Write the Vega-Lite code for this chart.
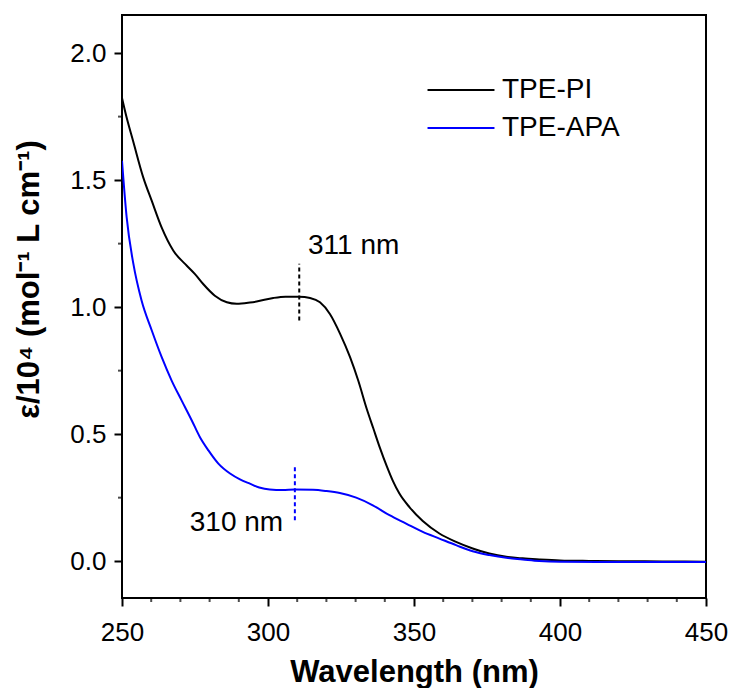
{
  "$schema": "https://vega.github.io/schema/vega-lite/v6.json",
  "width": 584,
  "height": 583,
  "autosize": {"type": "none"},
  "padding": {"left": 122, "top": 15, "right": 28, "bottom": 90},
  "background": "white",
  "config": {
    "font": "Liberation Sans",
    "view": {"stroke": "black", "strokeWidth": 2},
    "axis": {"grid": false, "domain": false, "tickColor": "black", "labelColor": "black", "titleColor": "black"}
  },
  "datasets": {
    "spectra": [
      {"wl": 250, "eps": 1.823, "s": "TPE-PI"},
      {"wl": 251.5, "eps": 1.75, "s": "TPE-PI"},
      {"wl": 253.8, "eps": 1.654, "s": "TPE-PI"},
      {"wl": 257.3, "eps": 1.51, "s": "TPE-PI"},
      {"wl": 260.2, "eps": 1.418, "s": "TPE-PI"},
      {"wl": 263.6, "eps": 1.313, "s": "TPE-PI"},
      {"wl": 267.6, "eps": 1.222, "s": "TPE-PI"},
      {"wl": 272.2, "eps": 1.163, "s": "TPE-PI"},
      {"wl": 275, "eps": 1.13, "s": "TPE-PI"},
      {"wl": 277.8, "eps": 1.091, "s": "TPE-PI"},
      {"wl": 281.8, "eps": 1.045, "s": "TPE-PI"},
      {"wl": 285.9, "eps": 1.019, "s": "TPE-PI"},
      {"wl": 289.3, "eps": 1.013, "s": "TPE-PI"},
      {"wl": 293.8, "eps": 1.018, "s": "TPE-PI"},
      {"wl": 296.1, "eps": 1.022, "s": "TPE-PI"},
      {"wl": 301.8, "eps": 1.036, "s": "TPE-PI"},
      {"wl": 306, "eps": 1.041, "s": "TPE-PI"},
      {"wl": 310.7, "eps": 1.041, "s": "TPE-PI"},
      {"wl": 314.4, "eps": 1.036, "s": "TPE-PI"},
      {"wl": 317.8, "eps": 1.019, "s": "TPE-PI"},
      {"wl": 321.2, "eps": 0.973, "s": "TPE-PI"},
      {"wl": 324.7, "eps": 0.895, "s": "TPE-PI"},
      {"wl": 328.1, "eps": 0.803, "s": "TPE-PI"},
      {"wl": 330.9, "eps": 0.711, "s": "TPE-PI"},
      {"wl": 333.8, "eps": 0.6, "s": "TPE-PI"},
      {"wl": 336, "eps": 0.525, "s": "TPE-PI"},
      {"wl": 338.3, "eps": 0.447, "s": "TPE-PI"},
      {"wl": 340.7, "eps": 0.373, "s": "TPE-PI"},
      {"wl": 342.8, "eps": 0.315, "s": "TPE-PI"},
      {"wl": 345, "eps": 0.266, "s": "TPE-PI"},
      {"wl": 348.5, "eps": 0.212, "s": "TPE-PI"},
      {"wl": 353, "eps": 0.158, "s": "TPE-PI"},
      {"wl": 358.7, "eps": 0.109, "s": "TPE-PI"},
      {"wl": 364.4, "eps": 0.076, "s": "TPE-PI"},
      {"wl": 370.1, "eps": 0.05, "s": "TPE-PI"},
      {"wl": 375.8, "eps": 0.03, "s": "TPE-PI"},
      {"wl": 381.6, "eps": 0.017, "s": "TPE-PI"},
      {"wl": 387.2, "eps": 0.011, "s": "TPE-PI"},
      {"wl": 392.9, "eps": 0.007, "s": "TPE-PI"},
      {"wl": 400, "eps": 0.003, "s": "TPE-PI"},
      {"wl": 410, "eps": 0.001, "s": "TPE-PI"},
      {"wl": 420, "eps": 0.0, "s": "TPE-PI"},
      {"wl": 435, "eps": -0.001, "s": "TPE-PI"},
      {"wl": 450, "eps": -0.002, "s": "TPE-PI"},
      {"wl": 250, "eps": 1.576, "s": "TPE-APA"},
      {"wl": 251.6, "eps": 1.353, "s": "TPE-APA"},
      {"wl": 253.9, "eps": 1.17, "s": "TPE-APA"},
      {"wl": 256.7, "eps": 1.026, "s": "TPE-APA"},
      {"wl": 260.2, "eps": 0.908, "s": "TPE-APA"},
      {"wl": 263.6, "eps": 0.803, "s": "TPE-APA"},
      {"wl": 267, "eps": 0.711, "s": "TPE-APA"},
      {"wl": 270.4, "eps": 0.633, "s": "TPE-APA"},
      {"wl": 273.9, "eps": 0.554, "s": "TPE-APA"},
      {"wl": 276.7, "eps": 0.488, "s": "TPE-APA"},
      {"wl": 279.6, "eps": 0.436, "s": "TPE-APA"},
      {"wl": 283, "eps": 0.384, "s": "TPE-APA"},
      {"wl": 287, "eps": 0.345, "s": "TPE-APA"},
      {"wl": 290.4, "eps": 0.322, "s": "TPE-APA"},
      {"wl": 293.8, "eps": 0.305, "s": "TPE-APA"},
      {"wl": 297, "eps": 0.29, "s": "TPE-APA"},
      {"wl": 300.6, "eps": 0.282, "s": "TPE-APA"},
      {"wl": 305, "eps": 0.28, "s": "TPE-APA"},
      {"wl": 309.2, "eps": 0.282, "s": "TPE-APA"},
      {"wl": 315.4, "eps": 0.281, "s": "TPE-APA"},
      {"wl": 320, "eps": 0.276, "s": "TPE-APA"},
      {"wl": 324.6, "eps": 0.268, "s": "TPE-APA"},
      {"wl": 330.2, "eps": 0.25, "s": "TPE-APA"},
      {"wl": 335.9, "eps": 0.22, "s": "TPE-APA"},
      {"wl": 341.6, "eps": 0.181, "s": "TPE-APA"},
      {"wl": 347.3, "eps": 0.148, "s": "TPE-APA"},
      {"wl": 353, "eps": 0.115, "s": "TPE-APA"},
      {"wl": 358.7, "eps": 0.089, "s": "TPE-APA"},
      {"wl": 364.4, "eps": 0.063, "s": "TPE-APA"},
      {"wl": 370.1, "eps": 0.039, "s": "TPE-APA"},
      {"wl": 375.8, "eps": 0.024, "s": "TPE-APA"},
      {"wl": 381.6, "eps": 0.013, "s": "TPE-APA"},
      {"wl": 387.2, "eps": 0.007, "s": "TPE-APA"},
      {"wl": 392.9, "eps": 0.001, "s": "TPE-APA"},
      {"wl": 400, "eps": -0.002, "s": "TPE-APA"},
      {"wl": 420, "eps": -0.003, "s": "TPE-APA"},
      {"wl": 450, "eps": -0.003, "s": "TPE-APA"}
    ],
    "marks": [
      {"wl": 310.7, "lo": 0.947, "hi": 1.171, "s": "TPE-PI"},
      {"wl": 309.2, "lo": 0.161, "hi": 0.377, "s": "TPE-APA"}
    ],
    "notes": [
      {"wl": 313.7, "eps": 1.21, "label": "311 nm"},
      {"wl": 273.2, "eps": 0.119, "label": "310 nm"}
    ],
    "minorX": [
      {"wl": 260}, {"wl": 270}, {"wl": 280}, {"wl": 290},
      {"wl": 310}, {"wl": 320}, {"wl": 330}, {"wl": 340},
      {"wl": 360}, {"wl": 370}, {"wl": 380}, {"wl": 390},
      {"wl": 410}, {"wl": 420}, {"wl": 430}, {"wl": 440}
    ],
    "minorY": [
      {"eps": 0.25}, {"eps": 0.75}, {"eps": 1.25}, {"eps": 1.75}
    ]
  },
  "layer": [
    {
      "data": {"name": "spectra"},
      "mark": {"type": "line", "strokeWidth": 2, "clip": true, "interpolate": "monotone"},
      "encoding": {
        "x": {
          "field": "wl", "type": "quantitative",
          "scale": {"domain": [250, 450], "nice": false, "zero": false},
          "axis": {
            "orient": "bottom", "values": [250, 300, 350, 400, 450], "format": "d",
            "tickSize": 8, "tickWidth": 2, "labelFontSize": 26, "labelPadding": 13, "labelFlush": false,
            "title": "Wavelength (nm)", "titleFontSize": 31, "titleFontWeight": "bold",
            "titleBaseline": "alphabetic", "titleY": 83
          }
        },
        "y": {
          "field": "eps", "type": "quantitative",
          "scale": {"domain": [-0.145, 2.15], "nice": false, "zero": false},
          "axis": {
            "orient": "left", "values": [0, 0.5, 1, 1.5, 2], "format": ".1f",
            "tickSize": 8, "tickWidth": 2, "labelFontSize": 26, "labelPadding": 8, "labelFlush": false,
            "title": "ε/10⁴ (mol⁻¹ L cm⁻¹)", "titleFontSize": 31, "titleFontWeight": "bold",
            "titleBaseline": "alphabetic", "titleAngle": -90, "titleX": -84, "titleY": 264, "titleAlign": "center"
          }
        },
        "color": {
          "field": "s", "type": "nominal",
          "scale": {"domain": ["TPE-PI", "TPE-APA"], "range": ["#000000", "#0000ff"]},
          "legend": {
            "orient": "none", "legendX": 325, "legendY": 61, "title": null,
            "symbolType": "M-3,0H3", "symbolSize": 498, "symbolStrokeWidth": 2, "symbolFillColor": "transparent",
            "labelFontSize": 28, "labelOffset": 27, "labelColor": "black", "padding": 0, "rowPadding": 10
          }
        }
      }
    },
    {
      "data": {"name": "minorX"},
      "mark": {"type": "tick", "orient": "vertical", "size": 4, "thickness": 2, "color": "black", "yOffset": 2, "clip": false},
      "encoding": {
        "x": {"field": "wl", "type": "quantitative"},
        "y": {"datum": -0.145, "type": "quantitative"}
      }
    },
    {
      "data": {"name": "minorY"},
      "mark": {"type": "tick", "orient": "horizontal", "size": 4, "thickness": 2, "color": "black", "xOffset": -2, "clip": false},
      "encoding": {
        "y": {"field": "eps", "type": "quantitative"},
        "x": {"datum": 250, "type": "quantitative"}
      }
    },
    {
      "data": {"name": "marks"},
      "mark": {"type": "rule", "strokeWidth": 2, "strokeDash": [4, 3]},
      "encoding": {
        "x": {"field": "wl", "type": "quantitative"},
        "y": {"field": "lo", "type": "quantitative"},
        "y2": {"field": "hi"},
        "color": {"field": "s", "type": "nominal", "legend": null}
      }
    },
    {
      "data": {"name": "notes"},
      "mark": {"type": "text", "align": "left", "baseline": "alphabetic", "fontSize": 28, "color": "black"},
      "encoding": {
        "x": {"field": "wl", "type": "quantitative"},
        "y": {"field": "eps", "type": "quantitative"},
        "text": {"field": "label"}
      }
    }
  ]
}
